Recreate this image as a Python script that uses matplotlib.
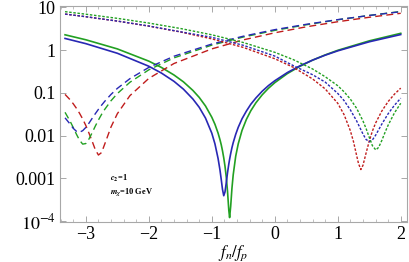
import numpy as np
import matplotlib
matplotlib.use("Agg")
import matplotlib.pyplot as plt
from matplotlib.ticker import FixedLocator, FixedFormatter, MultipleLocator, LogLocator, NullFormatter

# solid curves
x_solid = [-3.33, -3.0, -2.5, -2.0, -1.8, -1.6, -1.45, -1.3, -1.2, -1.1, -1.0, -0.95, -0.9, -0.87,
           -0.85, -0.83, -0.81, -0.79, -0.77, -0.75, -0.73, -0.717, -0.70, -0.68, -0.66, -0.62,
           -0.58, -0.52, -0.45, -0.38, -0.3, -0.2, -0.1, 0.0, 0.2, 0.4, 0.6, 0.8, 1.0, 1.5, 2.0]
y_solid_green = [2.29, 1.75, 1.07, 0.553, 0.394, 0.262, 0.181, 0.114, 0.0784, 0.0493, 0.0269,
                 0.0184, 0.0114, 0.0080, 0.0061, 0.0044, 0.0030, 0.0019, 0.00106, 0.00049,
                 0.00018, 0.00012, 0.00022, 0.00058, 0.0012, 0.0033, 0.0064, 0.0132, 0.0240,
                 0.0382, 0.0584, 0.0898, 0.128, 0.173, 0.283, 0.419, 0.583, 0.773, 0.991, 1.65,
                 2.48]
y_solid_blue = [1.88, 1.42, 0.846, 0.420, 0.291, 0.186, 0.122, 0.0717, 0.046, 0.0257, 0.0114,
                0.0064, 0.0029, 0.00156, 0.00094, 0.00055, 0.00039, 0.00048, 0.00079, 0.00135,
                0.00214, 0.00278, 0.00377, 0.0052, 0.0068, 0.0107, 0.0156, 0.0247, 0.0376,
                0.0542, 0.0758, 0.109, 0.148, 0.192, 0.299, 0.430, 0.584, 0.762, 0.963, 1.57,
                2.32]

# dashed curves
x_dash = [-3.33, -3.25, -3.2, -3.15, -3.1, -3.05, -3.0, -2.95, -2.9, -2.85, -2.8, -2.75, -2.7,
          -2.6, -2.5, -2.3, -2.0, -1.6, -1.0, -0.5, 0.0, 0.5, 1.0, 1.5, 2.0]
y_dash_blue = [0.026, 0.0186, 0.0148, 0.0126, 0.012, 0.0130, 0.0155, 0.0195, 0.0252, 0.0324,
               0.0411, 0.0514, 0.0633, 0.092, 0.127, 0.215, 0.394, 0.721, 1.39, 2.12, 3.02, 4.03,
               5.19, 6.49, 7.95]
y_dash_green = [0.035, 0.0217, 0.0155, 0.0108, 0.0078, 0.0063, 0.0065, 0.0083, 0.0116, 0.0166,
                0.0231, 0.0313, 0.041, 0.0654, 0.096, 0.177, 0.346, 0.66, 1.31, 2.03, 2.90, 3.93,
                5.15, 6.50, 8.05]
y_dash_red = [0.092, 0.069, 0.0556, 0.0437, 0.0333, 0.0245, 0.0172, 0.0114, 0.0074, 0.0047,
              0.0035, 0.0040, 0.0063, 0.0159, 0.0324, 0.086, 0.218, 0.487, 1.07, 1.74, 2.55, 3.52,
              4.63, 5.89, 7.30]

# dotted curves
x_dot_red = [-3.33, -3.0, -2.5, -2.0, -1.5, -1.0, -0.5, 0.0, 0.3, 0.6, 0.8, 1.0, 1.1, 1.2, 1.25,
             1.3, 1.33, 1.367, 1.4, 1.45, 1.5, 1.55, 1.6, 1.7, 1.8, 1.9, 2.0]
y_dot_red = [7.0, 6.06, 4.79, 3.65, 2.67, 1.84, 1.16, 0.63, 0.393, 0.212, 0.124, 0.057, 0.031,
             0.013, 0.0072, 0.0034, 0.0022, 0.0016, 0.0020, 0.0039, 0.0074, 0.0127, 0.0195,
             0.0376, 0.0625, 0.093, 0.129]
x_dot_blue = [-3.33, -3.0, -2.5, -2.0, -1.5, -1.0, -0.5, 0.0, 0.3, 0.6, 0.8, 1.0, 1.1, 1.2, 1.3,
              1.35, 1.4, 1.45, 1.5, 1.55, 1.6, 1.65, 1.7, 1.8, 1.9, 2.0]
y_dot_blue = [7.0, 6.08, 4.80, 3.68, 2.70, 2.0, 1.30, 0.727, 0.43, 0.266, 0.179, 0.097, 0.066,
              0.040, 0.022, 0.0155, 0.0109, 0.0081, 0.0072, 0.0079, 0.0101, 0.0137, 0.0186,
              0.0324, 0.0512, 0.075]
x_dot_green = [-3.33, -3.0, -2.5, -2.0, -1.5, -1.0, -0.5, 0.0, 0.3, 0.6, 0.8, 1.0, 1.1, 1.2, 1.3,
               1.4, 1.45, 1.5, 1.55, 1.604, 1.65, 1.7, 1.75, 1.8, 1.9, 2.0]
y_dot_green = [7.97, 6.95, 5.56, 4.31, 3.22, 2.29, 1.51, 0.89, 0.595, 0.363, 0.239, 0.147, 0.106,
               0.0715, 0.0434, 0.0221, 0.0146, 0.0091, 0.0058, 0.0046, 0.0053, 0.0077, 0.0118,
               0.0175, 0.0339, 0.057]

ytick_vals = [1e-4, 1e-3, 1e-2, 1e-1, 1, 10]
ytick_labels = [r"$10^{-4}$", "0.001", "0.01", "0.1", "1", "10"]
xtick_vals = [-3, -2, -1, 0, 1, 2]

blue = "#2828b4"
green = "#22a022"
red = "#c01c1c"

plt.rcParams["font.family"] = ["Liberation Serif", "DejaVu Serif"]
plt.rcParams["mathtext.fontset"] = "stix"
plt.rcParams["lines.scale_dashes"] = False

fig = plt.figure(figsize=(4.09, 2.62), dpi=100)
ax = fig.add_axes([0.1467, 0.153, 0.8477, 0.824])

long_dash = (0, (5.0, 3.0))
short_dash = (0, (1.8, 1.2))

ax.plot(x_solid, y_solid_green, color=green, lw=1.2)
ax.plot(x_solid, y_solid_blue, color=blue, lw=1.2)
ax.plot(x_dash, y_dash_red, color=red, lw=1.0, ls=long_dash)
ax.plot(x_dash, y_dash_green, color=green, lw=1.0, ls=long_dash)
ax.plot(x_dash, y_dash_blue, color=blue, lw=1.0, ls=long_dash)
ax.plot(x_dot_red, y_dot_red, color=red, lw=1.0, ls=short_dash)
ax.plot(x_dot_blue, y_dot_blue, color=blue, lw=1.0, ls=short_dash)
ax.plot(x_dot_green, y_dot_green, color=green, lw=1.0, ls=short_dash)

ax.set_yscale("log")
ax.set_xlim(-3.41, 2.095)
ax.set_ylim(9.5e-5, 10.8)

ax.yaxis.set_major_locator(FixedLocator(ytick_vals))
ax.yaxis.set_major_formatter(FixedFormatter(ytick_labels))
ax.yaxis.set_minor_locator(LogLocator(base=10, subs=np.arange(2, 10)))
ax.yaxis.set_minor_formatter(NullFormatter())
ax.xaxis.set_major_locator(FixedLocator(xtick_vals))
ax.xaxis.set_major_formatter(FixedFormatter(["\u22123", "\u22122", "\u22121", "0", "1", "2"]))
ax.xaxis.set_minor_locator(MultipleLocator(0.2))

for s in ax.spines.values():
    s.set_color("#a8a8a8")
    s.set_linewidth(0.8)
ax.tick_params(which="both", direction="in", top=True, right=True, color="#a8a8a8",
               labelsize=13, pad=3)
ax.tick_params(which="major", length=4, width=0.7)
ax.tick_params(which="minor", length=2, width=0.5)

ax.set_xlabel(r"$f_n/f_p$", fontsize=12, labelpad=0)

ax.text(0.144, 0.19, r"$\mathbfit{c}_{\mathbf{2}}$=1", transform=ax.transAxes, fontsize=6,
        fontweight="bold")
ax.text(0.144, 0.13, r"$\mathbfit{m}_{\mathbfit{\chi}}$=10 GeV", transform=ax.transAxes,
        fontsize=6, fontweight="bold")

fig.savefig("out.png", dpi=100)
